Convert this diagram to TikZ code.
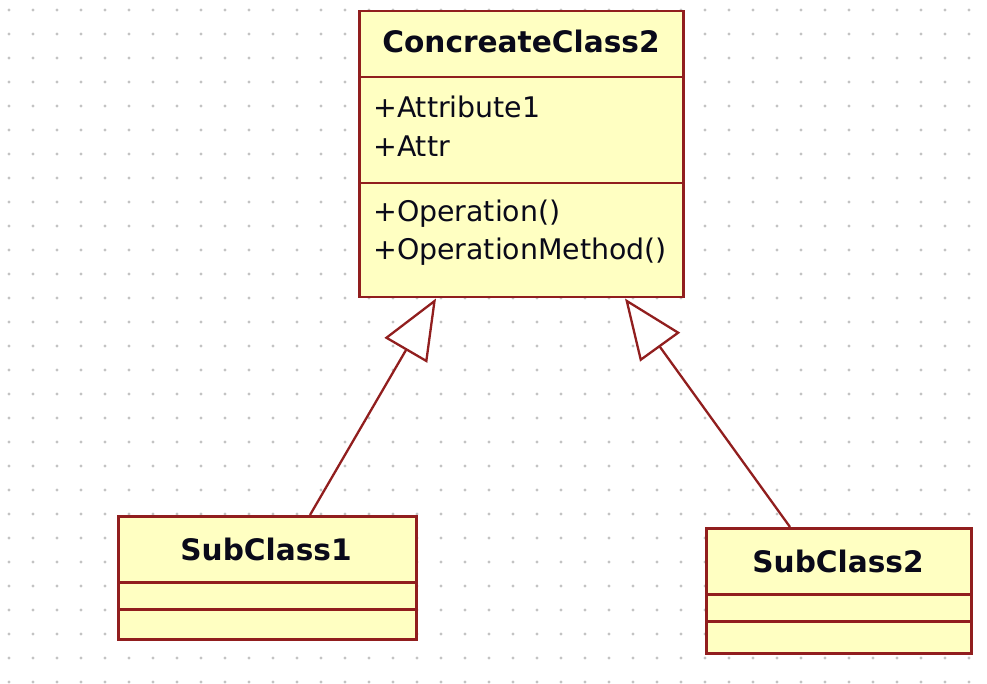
\documentclass[tikz,border=0pt]{standalone}
\usepackage{fontspec}
\setmainfont{DejaVu Sans}
\usetikzlibrary{arrows.meta,calc}
\definecolor{umlred}{RGB}{145,30,30}
\definecolor{umlfill}{RGB}{255,255,194}
\definecolor{dotgray}{RGB}{195,195,195}
\definecolor{umltext}{RGB}{10,10,25}
\tikzset{
  compart/.style={draw=umlred, fill=umlfill, line width=2.5pt, inner sep=0pt, anchor=north west},
  titletext/.style={font=\fontsize{29.6}{34}\selectfont\bfseries, text=umltext, anchor=base, inner sep=0pt},
  membertext/.style={font=\fontsize{28.4}{32}\selectfont, text=umltext, anchor=base west, inner sep=0pt},
  gen/.style={draw=umlred, line width=2.3pt, -{Triangle[open, length=60pt, width=49pt, fill=white]}},
}
\begin{document}
\begin{tikzpicture}[x=1pt, y=-1pt]
  \useasboundingbox (0,0) rectangle (987,684);
  \fill[white] (0,0) rectangle (987,684);
  % dot grid
  \foreach \i in {0,...,40} {
    \foreach \j in {0,...,28} {
      \fill[dotgray] (9+24*\i, 10+24*\j) circle (1.6pt);
    }
  }
  % ConcreateClass2
  \node[compart, minimum width=324pt, minimum height=66pt] (cHead) at (358,10) {};
  \node[compart, minimum width=324pt, minimum height=106pt] (cAttr) at (358,76) {};
  \node[compart, minimum width=324pt, minimum height=114pt] (cOps) at (358,182) {};
  \node[titletext] (cTitle) at (521,53) {ConcreateClass2};
  \node[membertext] (a1) at (373,118) {+Attribute1};
  \node[membertext] (a2) at (373,157) {+Attr};
  \node[membertext] (o1) at (373,222) {+Operation()};
  \node[membertext] (o2) at (373,260) {+OperationMethod()};
  % SubClass1
  \node[compart, minimum width=298pt, minimum height=66pt] (s1Head) at (117,515) {};
  \node[compart, minimum width=298pt, minimum height=27pt] (s1Attr) at (117,581) {};
  \node[compart, minimum width=298pt, minimum height=30pt] (s1Ops) at (117,608) {};
  \node[titletext] (s1Title) at (266,560) {SubClass1};
  % SubClass2
  \node[compart, minimum width=265pt, minimum height=66pt] (s2Head) at (705,527) {};
  \node[compart, minimum width=265pt, minimum height=27pt] (s2Attr) at (705,593) {};
  \node[compart, minimum width=265pt, minimum height=32pt] (s2Ops) at (705,620) {};
  \node[titletext] (s2Title) at (838,572) {SubClass2};
  % connectors
  \coordinate (tip1) at ($(cOps.south west)+(78,0)$);
  \coordinate (tip2) at ($(cOps.south west)+(267,0)$);
  \coordinate (foot1) at ($(s1Head.north west)+(193,0)$);
  \coordinate (foot2) at ($(s2Head.north west)+(85,0)$);
  \draw[gen] (foot1) -- (tip1);
  \draw[gen] (foot2) -- (tip2);
\end{tikzpicture}
\end{document}
